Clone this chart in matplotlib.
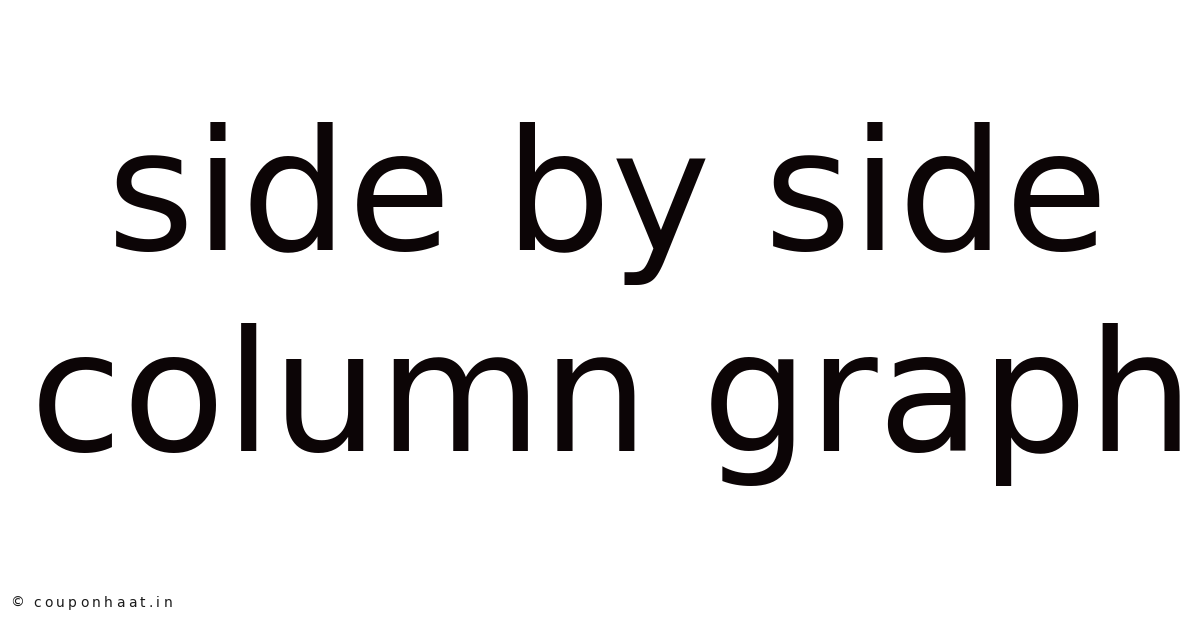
import matplotlib.pyplot as plt

# Title text shown on the card, one entry per line
title_lines = ['side by side', 'column graph']
copyright_sign = '\u00a9'
site_name = 'couponhaat.in'

fig = plt.figure(figsize=(12, 6.28), dpi=100)
fig.patch.set_facecolor('white')
W, H = 1200, 628

# Centre x and baseline y (pixels from top-left) of each title line
centres = [608, 612]
baselines = [250, 451]
for line, cx, base in zip(title_lines, centres, baselines):
    fig.text(cx / W, 1 - base / H, line, ha='center', va='baseline',
             fontsize=121, color='#0c0506', family='DejaVu Sans')

# small watermark, letters spread out a bit
mark_style = dict(fontsize=10, color='#1a1a1a', family='DejaVu Sans',
                  va='center', ha='left')
y_mark = 1 - 603 / H
fig.text(10 / W, y_mark, copyright_sign, **mark_style)

renderer = fig.canvas.get_renderer()
x0 = 33
spacing = 3.3
for i, ch in enumerate(site_name):
    if i == 0:
        offset = 0
    else:
        probe = fig.text(0, 0, site_name[:i], **mark_style)
        offset = probe.get_window_extent(renderer).width
        probe.remove()
    fig.text((x0 + offset + i * spacing) / W, y_mark, ch, **mark_style)

fig.savefig('out.png', dpi=100, facecolor='white')
